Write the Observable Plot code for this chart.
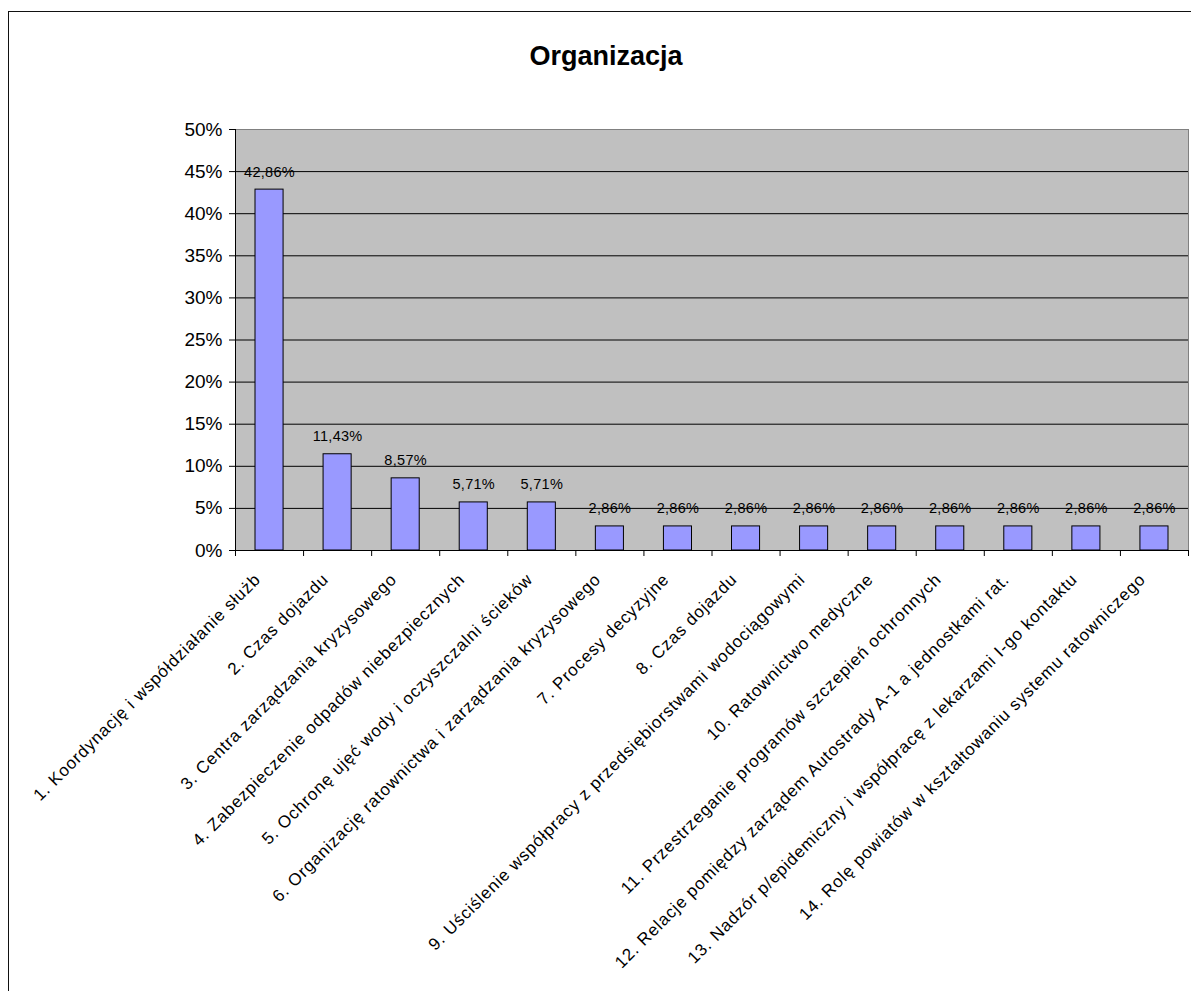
<!DOCTYPE html>
<html><head><meta charset="utf-8">
<script src="https://cdn.jsdelivr.net/npm/d3@7"></script>
<script src="https://cdn.jsdelivr.net/npm/@observablehq/plot@0.6"></script>
<style>
body{margin:0;background:#fff;font-family:"Liberation Sans",Arial,sans-serif;}
#wrap{position:relative;width:1191px;height:991px;overflow:hidden;}
#border{position:absolute;left:8px;top:11px;width:1200px;height:1000px;border-left:1.5px solid #111;border-top:1.5px solid #111;}
#title{position:absolute;left:0;width:1212px;top:41px;text-align:center;font-weight:bold;font-size:27px;font-family:"Liberation Sans",Arial,sans-serif;}
#chart{position:absolute;left:0;top:0;}
</style></head><body>
<div id="wrap"><div id="border"></div><div id="title">Organizacja</div><div id="chart"></div></div>
<script>
const categories = [
  "1. Koordynację i współdziałanie służb",
  "2. Czas dojazdu",
  "3. Centra zarządzania kryzysowego",
  "4. Zabezpieczenie odpadów niebezpiecznych",
  "5. Ochronę ujęć wody i oczyszczalni ścieków",
  "6. Organizację ratownictwa i zarządzania kryzysowego",
  "7. Procesy decyzyjne",
  "8. Czas dojazdu",
  "9. Uściślenie współpracy z przedsiębiorstwami wodociągowymi",
  "10. Ratownictwo medyczne",
  "11. Przestrzeganie programów szczepień ochronnych",
  "12. Relacje pomiędzy zarządem Autostrady A-1 a jednostkami rat.",
  "13. Nadzór p/epidemiczny i współpracę z lekarzami I-go kontaktu",
  "14. Rolę powiatów w kształtowaniu systemu ratowniczego"
];
const values = [42.86, 11.43, 8.57, 5.71, 5.71, 2.86, 2.86, 2.86, 2.86, 2.86, 2.86, 2.86, 2.86, 2.86];
const yTicks = [0, 5, 10, 15, 20, 25, 30, 35, 40, 45, 50];

const data = categories.map((c, i) => ({c, i, v: values[i]}));
const fmt = v => v.toFixed(2).replace(".", ",") + "%";
const bounds = d3.range(categories.length + 1);

const plot = Plot.plot({
  width: 1191, height: 991,
  marginTop: 129, marginLeft: 235, marginRight: 3, marginBottom: 441,
  style: {fontFamily: "Liberation Sans, Arial, sans-serif", background: "transparent", overflow: "visible", color: "#000"},
  x: {domain: [0, categories.length], axis: null, label: null},
  y: {domain: [0, 50], axis: null, label: null},
  marks: [
    Plot.frame({fill: "#C0C0C0"}),
    Plot.ruleY(yTicks.filter(t => t > 0 && t < 50), {stroke: "#000", strokeWidth: 1}),
    Plot.frame({stroke: "#808080"}),
    Plot.rectY(data, {x1: "i", x2: d => d.i + 1, y: "v", fill: "#9999FF", stroke: "#000", strokeWidth: 1, insetLeft: 20, insetRight: 20}),
    Plot.ruleX([0], {stroke: "#000"}),
    Plot.ruleY([0], {stroke: "#000"}),
    Plot.axisY({ticks: yTicks, tickFormat: d => d + "%", tickSize: 6, tickPadding: 7, fontSize: 19, stroke: "#000", label: null}),
    Plot.axisX({ticks: bounds, tickFormat: () => "", tickSize: 6, stroke: "#000", label: null}),
    Plot.text(data, {x: d => d.i + 0.5, y: "v", text: d => fmt(d.v), lineAnchor: "bottom", dy: -13, fontSize: 14.5, fill: "#000"}),
    Plot.text(data, {x: d => d.i + 0.5, y: 0, text: "c", rotate: -45, textAnchor: "end", lineAnchor: "bottom", dx: -8, dy: 30, fontSize: 17, fill: "#000"})
  ]
});
d3.select(plot).selectAll("g[font-size='17'] text").style("letter-spacing", "0.85px");
d3.select(plot).selectAll("g[font-size='14.5'] text").style("letter-spacing", "0.3px");
document.getElementById("chart").appendChild(plot);
</script>
</body></html>
